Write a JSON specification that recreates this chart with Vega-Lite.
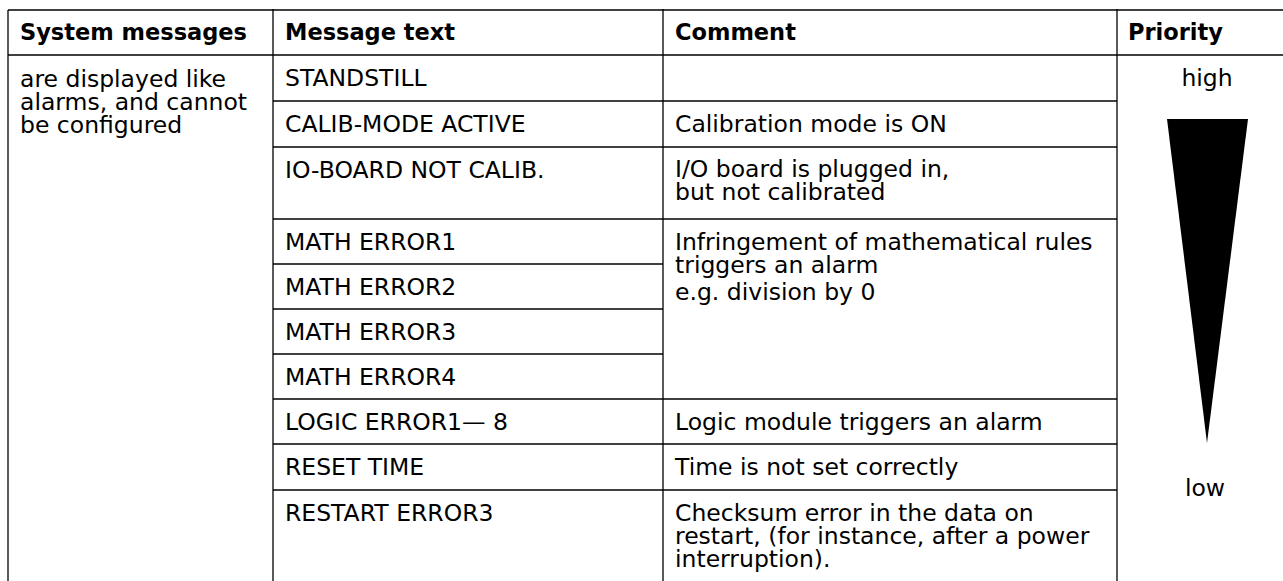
{
  "$schema": "https://vega.github.io/schema/vega-lite/v6.json",
  "width": 1283,
  "height": 581,
  "autosize": {"type": "none"},
  "padding": 0,
  "background": "white",
  "config": {"view": {"stroke": null}},
  "datasets": {
    "hlines": [
      {"x": 8, "x2": 1283, "y": 10},
      {"x": 8, "x2": 1283, "y": 55},
      {"x": 273, "x2": 1117, "y": 101},
      {"x": 273, "x2": 1117, "y": 147},
      {"x": 273, "x2": 1117, "y": 219},
      {"x": 273, "x2": 663, "y": 264},
      {"x": 273, "x2": 663, "y": 309},
      {"x": 273, "x2": 663, "y": 354},
      {"x": 273, "x2": 1117, "y": 399},
      {"x": 273, "x2": 1117, "y": 444},
      {"x": 273, "x2": 1117, "y": 490}
    ],
    "vlines": [
      {"x": 8, "y": 10, "y2": 581},
      {"x": 273, "y": 9, "y2": 581},
      {"x": 663, "y": 9, "y2": 581},
      {"x": 1117, "y": 9, "y2": 581}
    ],
    "header": [
      {"x": 20, "y": 40, "label": "System messages"},
      {"x": 285, "y": 40, "label": "Message text"},
      {"x": 675, "y": 40, "label": "Comment"},
      {"x": 1128, "y": 40, "label": "Priority"}
    ],
    "body": [
      {"x": 20, "y": 87, "label": "are displayed like\nalarms, and cannot\nbe configured"},
      {"x": 285, "y": 86, "label": "STANDSTILL"},
      {"x": 285, "y": 132, "label": "CALIB-MODE ACTIVE"},
      {"x": 675, "y": 132, "label": "Calibration mode is ON"},
      {"x": 285, "y": 178, "label": "IO-BOARD NOT CALIB."},
      {"x": 675, "y": 177, "label": "I/O board is plugged in,\nbut not calibrated"},
      {"x": 285, "y": 250, "label": "MATH ERROR1"},
      {"x": 285, "y": 295, "label": "MATH ERROR2"},
      {"x": 285, "y": 340, "label": "MATH ERROR3"},
      {"x": 285, "y": 385, "label": "MATH ERROR4"},
      {"x": 675, "y": 250, "label": "Infringement of mathematical rules\ntriggers an alarm"},
      {"x": 675, "y": 300, "label": "e.g. division by 0"},
      {"x": 285, "y": 430, "label": "LOGIC ERROR1— 8"},
      {"x": 675, "y": 430, "label": "Logic module triggers an alarm"},
      {"x": 285, "y": 475, "label": "RESET TIME"},
      {"x": 675, "y": 475, "label": "Time is not set correctly"},
      {"x": 285, "y": 521, "label": "RESTART ERROR3"},
      {"x": 675, "y": 521, "label": "Checksum error in the data on\nrestart, (for instance, after a power\ninterruption)."}
    ],
    "priority": [
      {"x": 1207, "y": 86, "label": "high"},
      {"x": 1205, "y": 496, "label": "low"}
    ],
    "wedge": [
      {"y": 119, "xl": 1167, "xr": 1248},
      {"y": 443, "xl": 1207, "xr": 1207}
    ]
  },
  "layer": [
    {
      "data": {"name": "hlines"},
      "mark": {"type": "rule", "color": "black", "strokeWidth": 1.3},
      "encoding": {
        "x": {"field": "x", "type": "quantitative", "scale": {"domain": [0, 1283], "nice": false, "zero": false}, "axis": null},
        "x2": {"field": "x2"},
        "y": {"field": "y", "type": "quantitative", "scale": {"domain": [0, 581], "nice": false, "zero": false, "reverse": true}, "axis": null}
      }
    },
    {
      "data": {"name": "vlines"},
      "mark": {"type": "rule", "color": "black", "strokeWidth": 1.3},
      "encoding": {
        "x": {"field": "x", "type": "quantitative"},
        "y": {"field": "y", "type": "quantitative"},
        "y2": {"field": "y2"}
      }
    },
    {
      "data": {"name": "wedge"},
      "mark": {"type": "area", "orient": "horizontal", "color": "black", "opacity": 1},
      "encoding": {
        "y": {"field": "y", "type": "quantitative"},
        "x": {"field": "xl", "type": "quantitative"},
        "x2": {"field": "xr"}
      }
    },
    {
      "data": {"name": "header"},
      "mark": {"type": "text", "font": "DejaVu Sans", "fontSize": 22.5, "fontWeight": "bold", "align": "left", "baseline": "alphabetic", "color": "black"},
      "encoding": {
        "x": {"field": "x", "type": "quantitative"},
        "y": {"field": "y", "type": "quantitative"},
        "text": {"field": "label"}
      }
    },
    {
      "data": {"name": "body"},
      "mark": {"type": "text", "font": "DejaVu Sans", "fontSize": 23.5, "align": "left", "baseline": "alphabetic", "lineBreak": "\n", "lineHeight": 23, "color": "black"},
      "encoding": {
        "x": {"field": "x", "type": "quantitative"},
        "y": {"field": "y", "type": "quantitative"},
        "text": {"field": "label"}
      }
    },
    {
      "data": {"name": "priority"},
      "mark": {"type": "text", "font": "DejaVu Sans", "fontSize": 23.5, "align": "center", "baseline": "alphabetic", "color": "black"},
      "encoding": {
        "x": {"field": "x", "type": "quantitative"},
        "y": {"field": "y", "type": "quantitative"},
        "text": {"field": "label"}
      }
    }
  ]
}
